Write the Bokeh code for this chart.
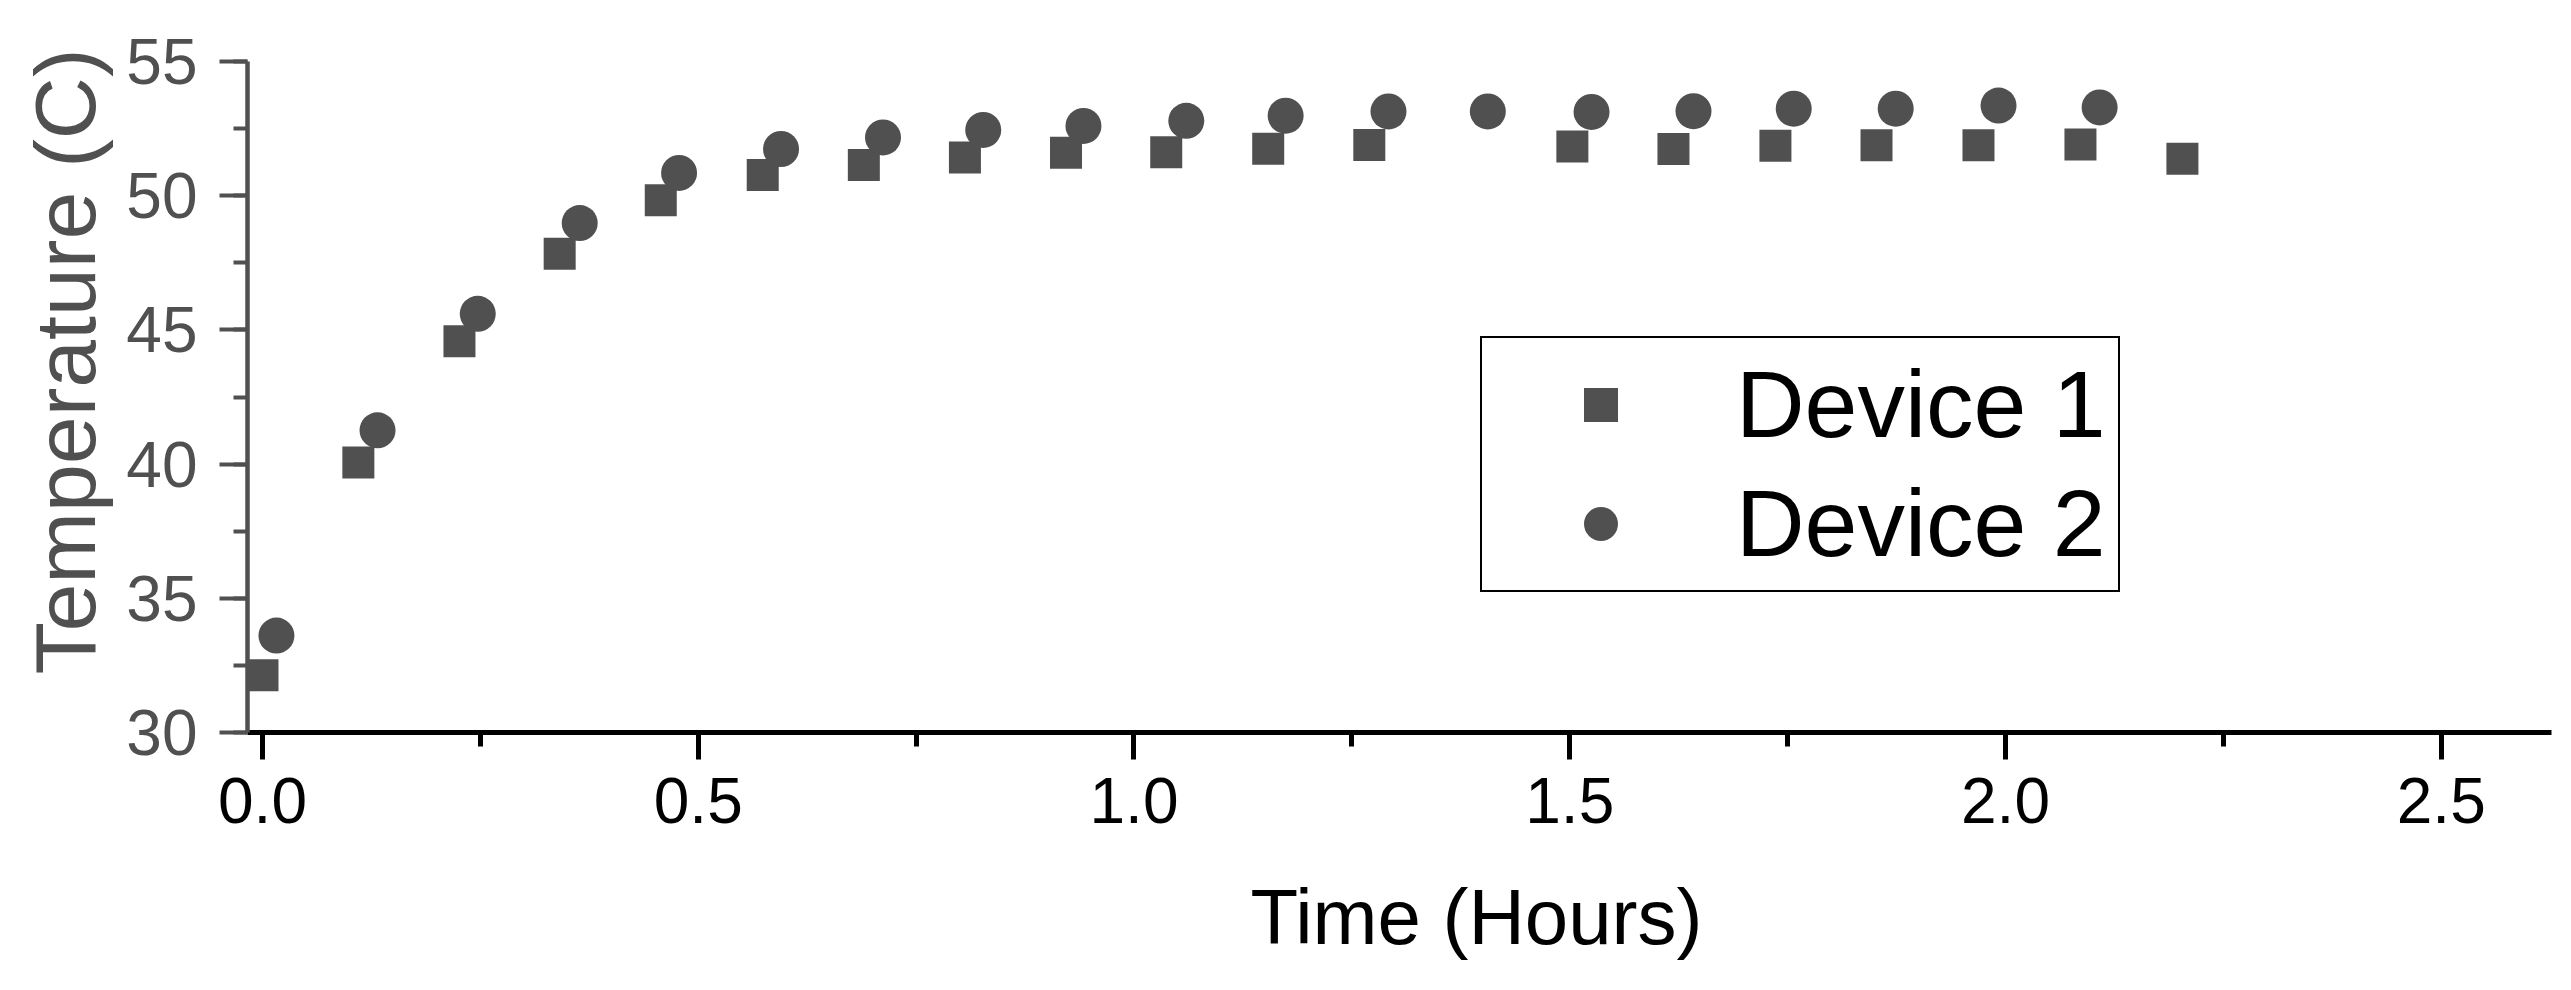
from bokeh.plotting import figure
from bokeh.models import (Range1d, SingleIntervalTicker, FixedTicker, PrintfTickFormatter,
                          Legend, LegendItem, Title, LinearAxis)
from bokeh.embed import file_html
from bokeh.resources import INLINE

# ---- data ----
device1_time = [0.0, 0.110, 0.226, 0.341, 0.457, 0.574, 0.690, 0.806, 0.922, 1.037,
                1.154, 1.270, 1.503, 1.619, 1.736, 1.852, 1.969, 2.086, 2.203]
device1_temp = [32.13, 40.06, 44.58, 47.84, 49.83, 50.77, 51.14, 51.42, 51.60, 51.62,
                51.75, 51.89, 51.83, 51.74, 51.86, 51.88, 51.88, 51.91, 51.38]
device2_time = [0.016, 0.132, 0.247, 0.364, 0.478, 0.595, 0.712, 0.827, 0.942, 1.060,
                1.174, 1.292, 1.406, 1.525, 1.642, 1.757, 1.874, 1.992, 2.108]
device2_temp = [33.61, 41.26, 45.60, 48.98, 50.85, 51.74, 52.17, 52.45, 52.60, 52.79,
                52.98, 53.14, 53.14, 53.12, 53.15, 53.24, 53.24, 53.36, 53.29]
series_names = ["Device 1", "Device 2"]
x_label = "Time (Hours)"
y_label = "Temperature (C)"

FONT = "Liberation Sans"
GRAY = "#505050"
X_LABEL_POS = 1.393   # the x title sits a little right of the axis centre

p = figure(width=2563, height=982, output_backend="svg", toolbar_location=None,
           x_range=Range1d(-0.0172, 2.6265), y_range=Range1d(30, 55),
           min_border_left=247, min_border_right=12, min_border_top=61,
           min_border_bottom=250)
p.outline_line_color = None
p.grid.visible = False
p.background_fill_color = "white"
p.border_fill_color = "white"

r1 = p.scatter(device1_time, device1_temp, marker="square", size=32,
               fill_color=GRAY, line_color=None)
r2 = p.scatter(device2_time, device2_temp, marker="circle", size=36,
               fill_color=GRAY, line_color=None)

# x axis
xa = p.xaxis[0]
xa.ticker = SingleIntervalTicker(interval=0.5, num_minor_ticks=2)
xa.formatter = PrintfTickFormatter(format="%.1f")
xa.axis_line_color = "black"
xa.axis_line_width = 5
xa.major_tick_line_color = "black"
xa.major_tick_line_width = 5
xa.major_tick_in = 0
xa.major_tick_out = 27
xa.minor_tick_line_color = "black"
xa.minor_tick_line_width = 5
xa.minor_tick_in = 0
xa.minor_tick_out = 14
xa.major_label_text_font = FONT
xa.major_label_text_font_size = "64px"
xa.major_label_text_color = "black"
xa.major_label_standoff = 18

# y axis
ya = p.yaxis[0]
ya.ticker = SingleIntervalTicker(interval=5, num_minor_ticks=2)
ya.axis_line_color = GRAY
ya.axis_line_width = 4.5
ya.major_tick_line_color = GRAY
ya.major_tick_line_width = 4
ya.major_tick_in = 0
ya.major_tick_out = 28
ya.minor_tick_line_color = GRAY
ya.minor_tick_line_width = 4
ya.minor_tick_in = 0
ya.minor_tick_out = 14
ya.major_label_text_font = FONT
ya.major_label_text_font_size = "64px"
ya.major_label_text_color = GRAY
ya.major_label_standoff = 22

# x title: drawn by a bare second axis below (no line, no tick marks),
# whose single label is the title, so it can sit off-centre like the reference
title_axis = LinearAxis(ticker=FixedTicker(ticks=[X_LABEL_POS], minor_ticks=[]),
                        major_label_overrides={X_LABEL_POS: x_label},
                        axis_line_color=None, major_tick_line_color=None,
                        minor_tick_line_color=None, major_tick_in=0, major_tick_out=0,
                        minor_tick_in=0, minor_tick_out=0, major_label_standoff=47,
                        major_label_text_font=FONT, major_label_text_font_size="78px",
                        major_label_text_color="black")
p.add_layout(title_axis, "below")

# y title, a little above the axis centre like the reference
p.add_layout(Title(text=y_label, align="left", offset=58, vertical_align="bottom",
                   standoff=22, text_font=FONT, text_font_size="86px",
                   text_font_style="normal", text_color=GRAY), "left")

legend = Legend(items=[LegendItem(label=series_names[0], renderers=[r1]),
                       LegendItem(label=series_names[1], renderers=[r2])],
                location=(1233, 140),
                glyph_width=213, glyph_height=85,
                label_standoff=29, padding=12, spacing=10, margin=0,
                label_text_font=FONT, label_text_font_size="95px",
                label_text_color="black",
                border_line_color="black", border_line_width=2,
                border_line_alpha=1.0,
                background_fill_color="white", background_fill_alpha=1.0)
p.add_layout(legend)

open("out.html", "w").write(file_html(p, INLINE))
